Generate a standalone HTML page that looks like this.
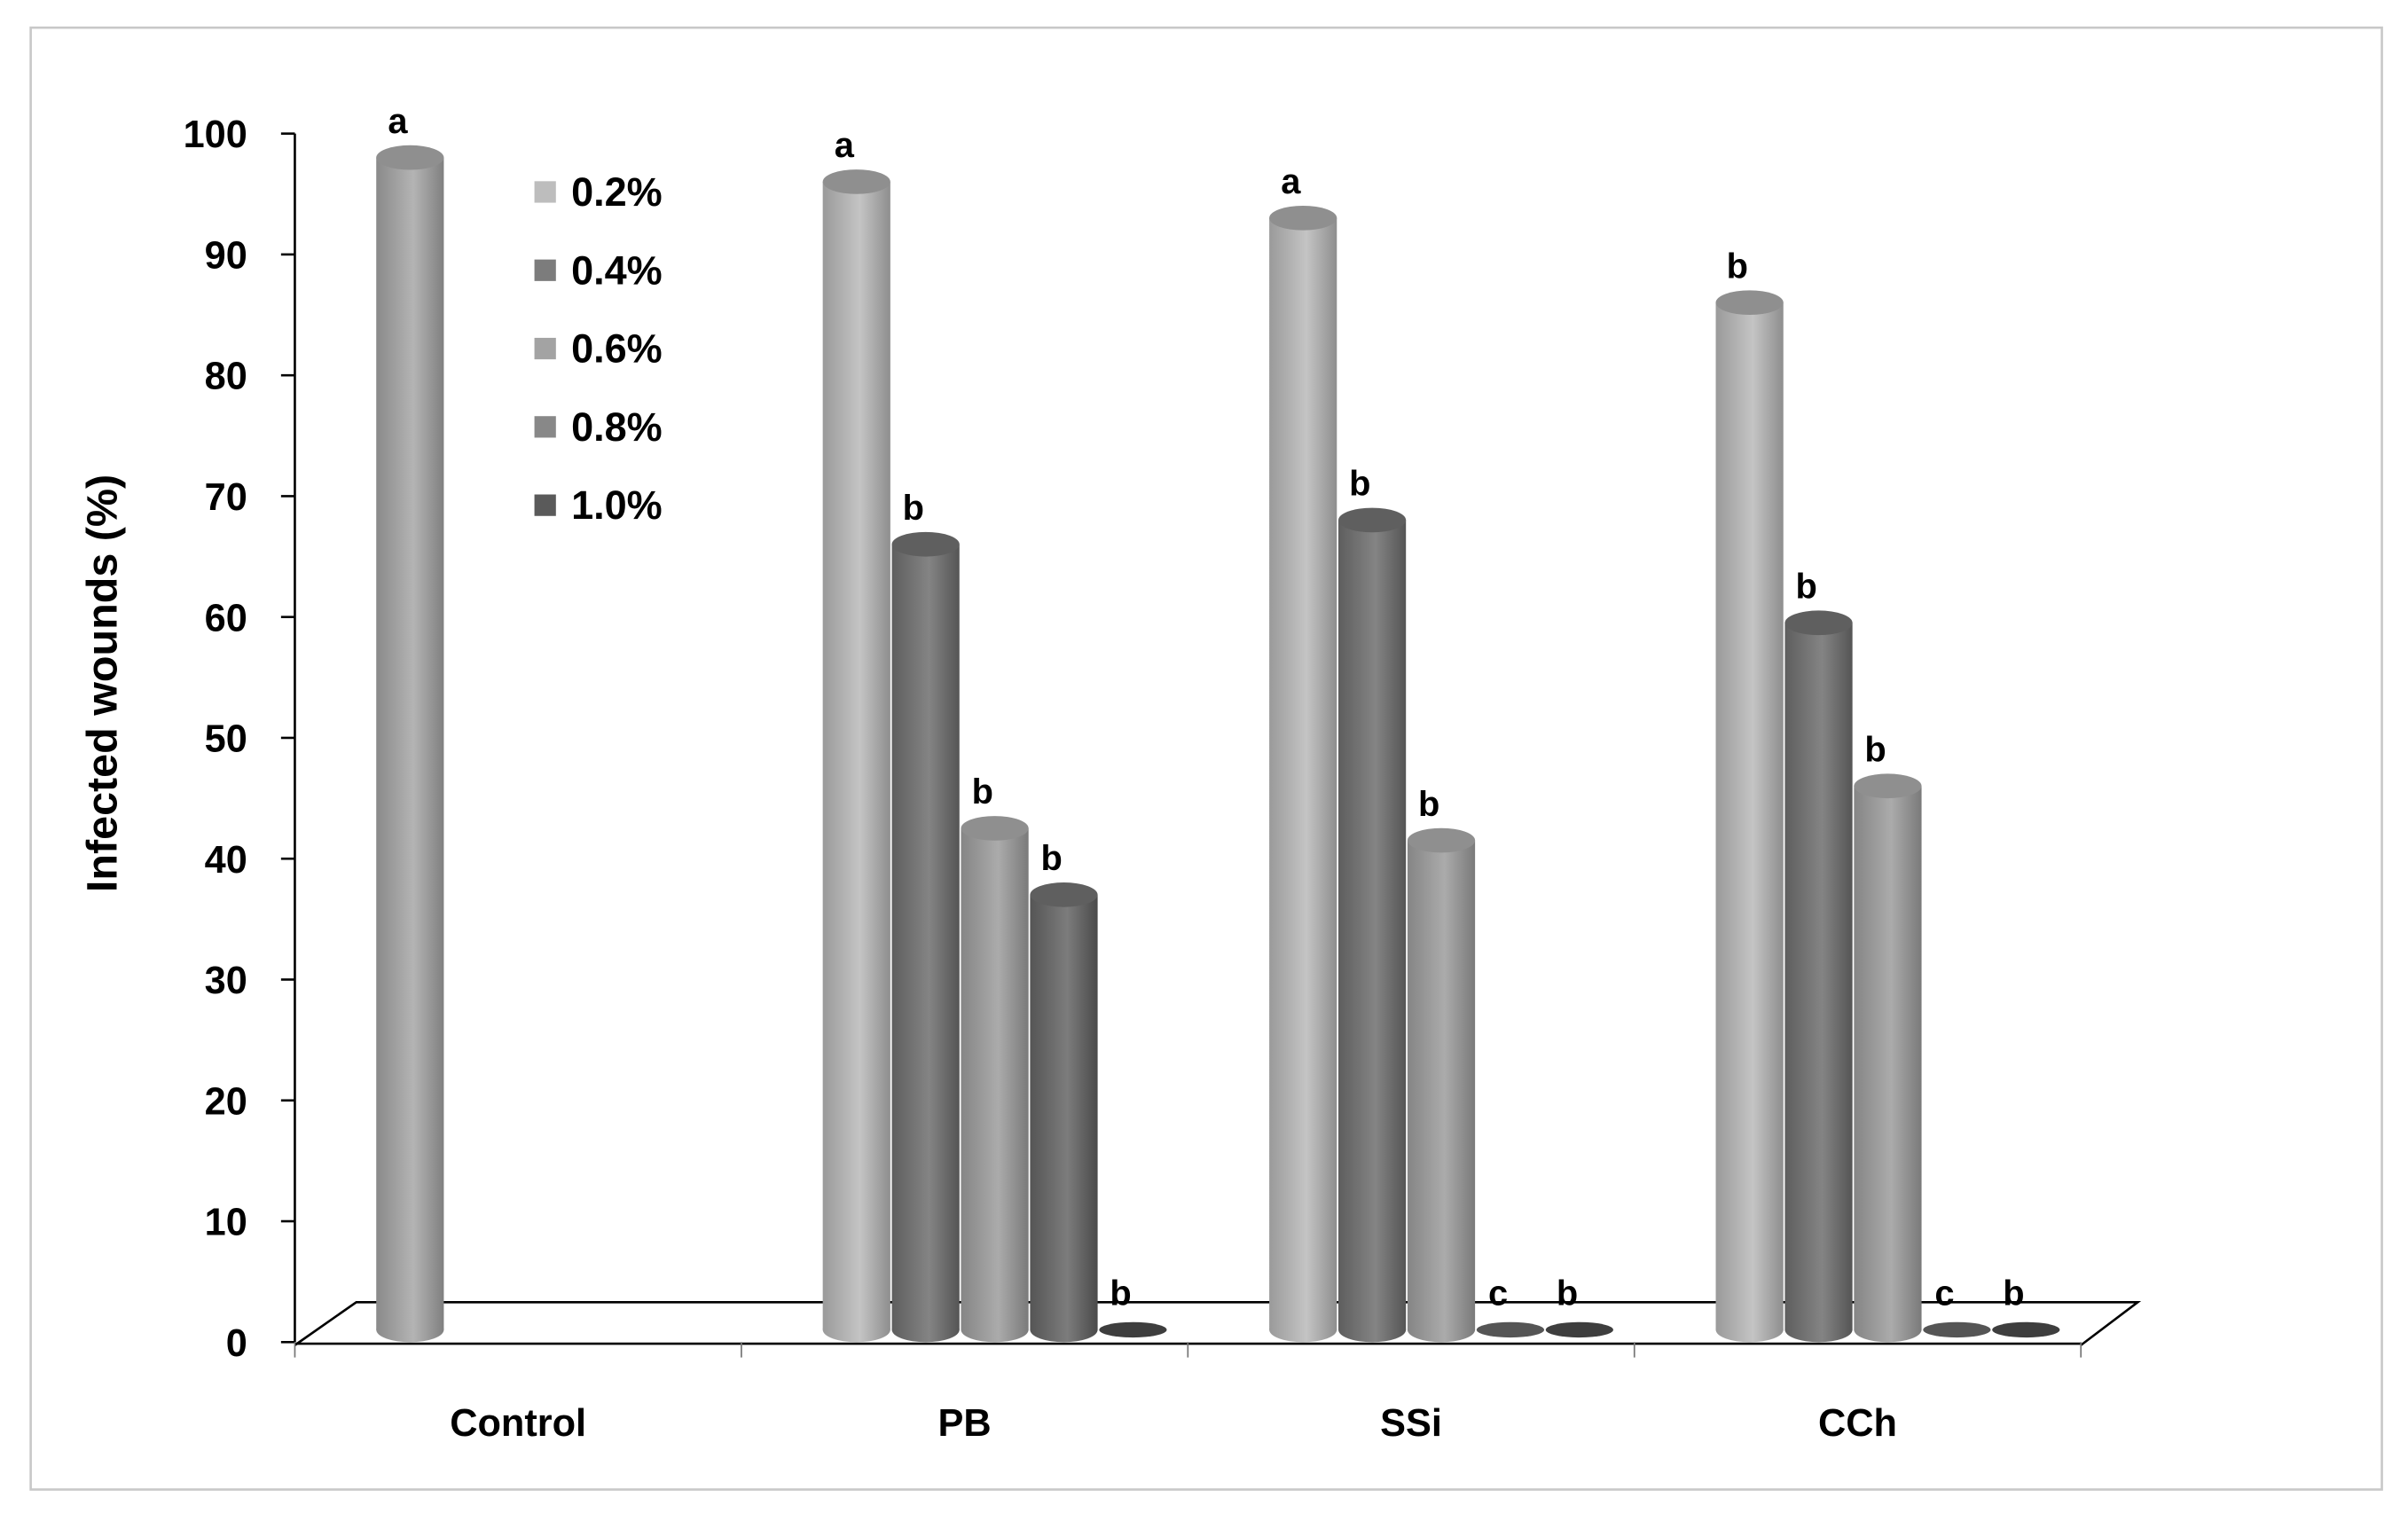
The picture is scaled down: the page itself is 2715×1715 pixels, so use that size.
<!DOCTYPE html>
<html><head><meta charset="utf-8">
<style>
html,body{margin:0;padding:0;background:#fff;}
svg{display:block;}
text{font-family:"Liberation Sans",sans-serif;}
</style></head>
<body>
<svg id="chart" width="2715" height="1715" viewBox="0 0 1568 990.5" preserveAspectRatio="none" xmlns="http://www.w3.org/2000/svg">
<defs>
<linearGradient id="g0" x1="0" x2="1"><stop offset="0" stop-color="#9a9a9a"/><stop offset="0.55" stop-color="#c4c4c4"/><stop offset="1" stop-color="#8e8e8e"/></linearGradient>
<linearGradient id="g1" x1="0" x2="1"><stop offset="0" stop-color="#5e5e5e"/><stop offset="0.55" stop-color="#848484"/><stop offset="1" stop-color="#555"/></linearGradient>
<linearGradient id="g2" x1="0" x2="1"><stop offset="0" stop-color="#858585"/><stop offset="0.55" stop-color="#ababab"/><stop offset="1" stop-color="#7a7a7a"/></linearGradient>
<linearGradient id="g3" x1="0" x2="1"><stop offset="0" stop-color="#555"/><stop offset="0.55" stop-color="#7c7c7c"/><stop offset="1" stop-color="#4a4a4a"/></linearGradient>
<linearGradient id="g4" x1="0" x2="1"><stop offset="0" stop-color="#404040"/><stop offset="0.55" stop-color="#5e5e5e"/><stop offset="1" stop-color="#383838"/></linearGradient>
<linearGradient id="gc" x1="0" x2="1"><stop offset="0" stop-color="#8a8a8a"/><stop offset="0.55" stop-color="#b4b4b4"/><stop offset="1" stop-color="#808080"/></linearGradient>
</defs>
<rect x="20" y="18" width="1531" height="952" fill="#fff" stroke="#c8c8c8" stroke-width="1.5"/>
<g id="floor" stroke="#000" stroke-width="1.5" fill="none">
<polyline points="192,876 232,848 1392,848 1355,876"/>
</g>
<g id="axes"></g>
<g id="bars"></g>
<g id="legend"></g>
<text transform="translate(76,445) rotate(-90)" text-anchor="middle" font-size="28" font-weight="bold" fill="#000">Infected wounds (%)</text>
</svg>
<script>
const categories = ["Control", "PB", "SSi", "CCh"];
const seriesNames = ["0.2%", "0.4%", "0.6%", "0.8%", "1.0%"];
const s02 = [97, 95, 92, 85];
const s04 = [null, 65, 67, 58.5];
const s06 = [null, 41.5, 40.5, 45];
const s08 = [null, 36, 0, 0];
const s10 = [null, 0, 0, 0];
const lab02 = ["a", "a", "a", "b"];
const lab04 = ["", "b", "b", "b"];
const lab06 = ["", "b", "b", "b"];
const lab08 = ["", "b", "c", "c"];
const lab10 = ["", "b", "b", "b"];
const yTicks = [0, 10, 20, 30, 40, 50, 60, 70, 80, 90, 100];

const NS = "http://www.w3.org/2000/svg";
const series = [s02, s04, s06, s08, s10];
const labels = [lab02, lab04, lab06, lab08, lab10];
const grads = ["g0", "g1", "g2", "g3", "g4"];
const legendColors = ["#bdbdbd", "#7c7c7c", "#a3a3a3", "#888", "#5a5a5a"];
const X0 = 192, XEND = 1355, YBASE = 874, YTOP = 87;
const catW = (XEND - X0) / categories.length;
function yAxis(v){ return YBASE - v * (YBASE - YTOP) / 100; }
function barY(v){ return 866 - v * 7.87; }
function xPos(ci, si){ return X0 + 75 + ci * catW + si * 45; }
function mk(tag, attrs, parent){ const e = document.createElementNS(NS, tag); for (const k in attrs) e.setAttribute(k, attrs[k]); parent.appendChild(e); return e; }

const axes = document.getElementById("axes");
const yl = mk("line", {x1:X0, y1:YTOP, x2:X0, y2:YBASE, stroke:"#000", "stroke-width":1.5}, axes);


const xl = mk("line", {x1:X0, y1:YBASE+1, x2:XEND, y2:YBASE+1, stroke:"#000", "stroke-width":1.5}, axes);


yTicks.forEach(t => {
  const y = yAxis(t);
  const tk = mk("line", {x1:X0-9, y1:y, x2:X0, y2:y, stroke:"#000", "stroke-width":1.5}, axes);
  
  
  const tx = mk("text", {x:161, y:y+9, "text-anchor":"end", "font-size":25, "font-weight":"bold"}, axes);
  tx.textContent = t;
  
  
});
for (let i = 0; i <= categories.length; i++) {
  const x = X0 + i * catW;
  const tk = mk("line", {x1:x, y1:YBASE, x2:x, y2:YBASE+10, stroke:"#777", "stroke-width":1}, axes);
  
  
}
categories.forEach((c, i) => {
  const tx = mk("text", {x:X0 + (i+0.5)*catW, y:935, "text-anchor":"middle", "font-size":25, "font-weight":"bold"}, axes);
  tx.textContent = c;
  
  
});

const bars = document.getElementById("bars");
const W = 44, RX = 22, RY = 8;
categories.forEach((c, ci) => {
  series.forEach((s, si) => {
    const v = s[ci];
    if (v === null || v === undefined) return;
    const cx = xPos(ci, si);
    const yb = barY(0), yt = barY(v);
    const g = mk("g", {}, bars);
    
    
    const fillId = (ci === 0 && si === 0) ? "gc" : grads[si];
    if (v > 0) {
      mk("ellipse", {cx:cx, cy:yb, rx:RX, ry:RY, fill:"url(#" + fillId + ")"}, g);
      mk("rect", {x:cx-RX, y:yt, width:W, height:yb-yt, fill:"url(#" + fillId + ")"}, g);
      mk("ellipse", {cx:cx, cy:yt, rx:RX, ry:RY, fill:si===1||si===3?"#5f5f5f":"#8f8f8f"}, g);
    } else {
      mk("ellipse", {cx:cx, cy:yb, rx:RX, ry:5, fill:si===4?"#3e3e3e":"#555"}, g);
    }
    const lt = labels[si][ci];
    if (lt) {
      const tx = mk("text", {x:cx-8, y:yt-16, "text-anchor":"middle", "font-size":23, "font-weight":"bold"}, bars);
      tx.textContent = lt;
      
      
    }
  });
});

const legend = document.getElementById("legend");
seriesNames.forEach((n, i) => {
  const y = 125 + i * 51;
  const g = mk("g", {}, legend);
  
  
  mk("rect", {x:348, y:y-7, width:14, height:14, fill:legendColors[i]}, g);
  const tx = mk("text", {x:372, y:y+9, "font-size":26, "font-weight":"bold"}, g);
  tx.textContent = n;
});
</script>
</body></html>
